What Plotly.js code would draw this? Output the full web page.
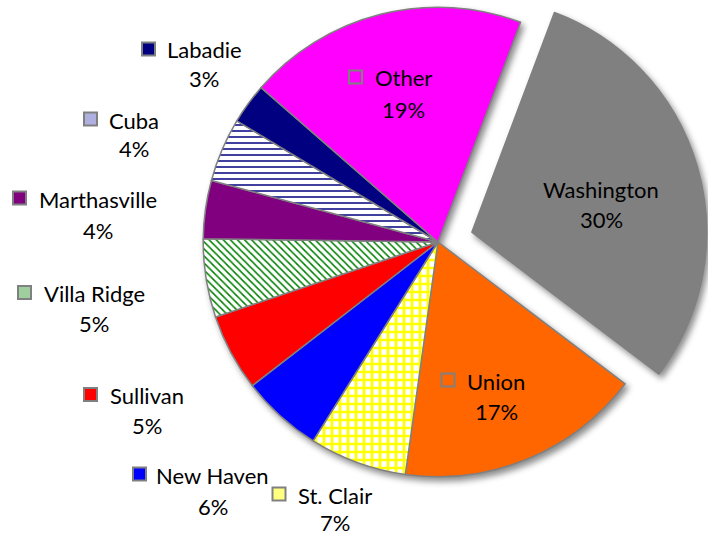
<!DOCTYPE html>
<html><head><meta charset="utf-8">
<script src="https://cdn.plot.ly/plotly-3.0.1.min.js"></script>
<style>
html,body{margin:0;padding:0;overflow:hidden;background:#fff;width:708px;height:537px;}
#chart{position:absolute;left:0;top:-40px;width:708px;height:620px;}
.pielayer .trace{filter:drop-shadow(3px 4px 3px rgba(0,0,0,0.45));}
</style></head><body><div id="chart"></div>
<script>
// ---- data ----
const towns  = ["Washington","Union","St. Clair","New Haven","Sullivan","Villa Ridge","Marthasville","Cuba","Labadie","Other"];
const shares = [29.6, 16.9, 6.7, 5.6, 5.3, 5.4, 4.0, 4.4, 2.8, 19.3];

// ---- styles ----
const sliceColors   = ["#808080","#FF6600","#FFFFFF","#0000FF","#FF0000","#FFFFFF","#800080","#FFFFFF","#000080","#FF00FF"];
const patternShapes = ["","","+","","","\\","","-","",""];
const patternFg     = ["#808080","#FF6600","#FFFF00","#0000FF","#FF0000","#008000","#800080","#000080","#000080","#FF00FF"];
const patternBg     = ["#808080","#FF6600","#FFFFFF","#0000FF","#FF0000","#FFFFFF","#800080","#FFFFFF","#000080","#FF00FF"];
const patternSize   = [8,8,8,8,8,5,8,6,8,8];
const patternSolid  = [0.5,0.5,0.55,0.5,0.5,0.3,0.5,0.25,0.5,0.5];
const keyFill       = ["#808080","#FF6600","#FFFF80","#0000FF","#FF0000","#9FCF9F","#800080","#B0B0E0","#000080","#FF00FF"];
const pulls         = [0.15,0,0,0,0,0,0,0,0,0];

// label layout (page pixels): name centre x, name line y, percent line y, key centre x (null = no key)
const labelPos = {
  "Washington":  {cx:601, y:188, py:218, kx:null},
  "Union":       {cx:496, y:380, py:410, kx:448},
  "St. Clair":   {cx:335, y:494, py:521, kx:279},
  "New Haven":   {cx:213, y:474, py:505, kx:139.5},
  "Sullivan":    {cx:147, y:394.5, py:424, kx:90.5},
  "Villa Ridge": {cx:94,  y:292.5, py:323, kx:24.5},
  "Marthasville":{cx:98,  y:198, py:229, kx:19.5},
  "Cuba":        {cx:134, y:119, py:148, kx:90.5},
  "Labadie":     {cx:204, y:49,  py:78,  kx:148.5},
  "Other":       {cx:403, y:77,  py:108, kx:355.5}
};

const W = 708, H = 620, OFF = 40, TXT_DY = 1;
const px2x = px => px / W;
const px2y = py => 1 - (py + OFF) / H;
const font = {family:'Lato, sans-serif', size:22, color:'#000'};

const total = shares.reduce((a,b)=>a+b,0);
const annotations = [], shapes = [];
towns.forEach((t,i)=>{
  const p = labelPos[t];
  const pct = Math.round(shares[i] / total * 100);
  annotations.push({x: px2x(p.cx), y: px2y(p.y + TXT_DY), xref:'paper', yref:'paper',
    text: t, showarrow:false, xanchor:'center', yanchor:'middle', borderpad:0, font});
  annotations.push({x: px2x(p.cx), y: px2y(p.py + TXT_DY), xref:'paper', yref:'paper',
    text: pct + '%', showarrow:false, xanchor:'center', yanchor:'middle', borderpad:0, font});
  if (p.kx !== null) {
    const h = 6.5;
    shapes.push({type:'rect', xref:'paper', yref:'paper',
      x0: px2x(p.kx - h), x1: px2x(p.kx + h), y0: px2y(p.y + h), y1: px2y(p.y - h),
      fillcolor: keyFill[i], line:{color:'#808080', width:2}});
  }
});

const trace = {
  type:'pie', labels: towns, values: shares, sort:false, direction:'clockwise', rotation:20.6,
  pull: pulls, textinfo:'none', hoverinfo:'label+percent',
  domain:{x:[168/708, 1], y:[1-552/620, 1-12/620]},
  marker:{colors: sliceColors, line:{color:'#808080', width:1.5},
    pattern:{shape: patternShapes, fgcolor: patternFg, bgcolor: patternBg, size: patternSize, solidity: patternSolid, fillmode:'replace'}}
};

Plotly.newPlot('chart', [trace], {
  width:W, height:H, margin:{l:0,r:0,t:0,b:0}, showlegend:false,
  paper_bgcolor:'#fff', annotations, shapes
}, {staticPlot:true});
</script></body></html>
